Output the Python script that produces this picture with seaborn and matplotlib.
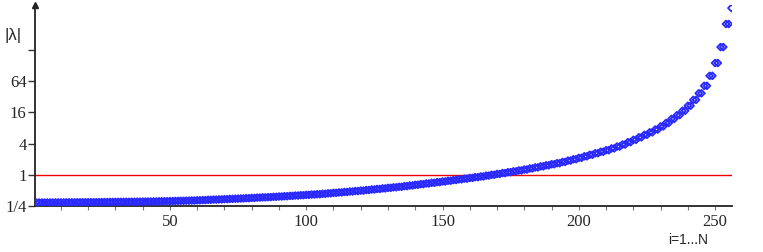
import matplotlib
matplotlib.use("Agg")
import matplotlib.pyplot as plt
import seaborn as sns
import numpy as np
import pandas as pd
from matplotlib.ticker import FixedLocator, MultipleLocator

# ---- data ----
index = list(range(1, 257))
magnitude = [
    0.291,
    0.292, 0.292, 0.292, 0.292, 0.292, 0.292, 0.293, 0.293, 0.293, 0.293,
    0.294, 0.294, 0.294, 0.294, 0.295, 0.295, 0.295, 0.295, 0.296, 0.296,
    0.296, 0.296, 0.297, 0.297, 0.298, 0.298, 0.299, 0.299, 0.300, 0.300,
    0.301, 0.301, 0.301, 0.301, 0.302, 0.302, 0.303, 0.303, 0.304, 0.304,
    0.305, 0.305, 0.306, 0.306, 0.308, 0.308, 0.309, 0.309, 0.311, 0.311,
    0.313, 0.313, 0.315, 0.315, 0.317, 0.317, 0.319, 0.319, 0.322, 0.322,
    0.325, 0.325, 0.329, 0.329, 0.332, 0.332, 0.335, 0.335, 0.339, 0.339,
    0.343, 0.343, 0.346, 0.346, 0.350, 0.350, 0.354, 0.354, 0.358, 0.358,
    0.363, 0.363, 0.367, 0.367, 0.371, 0.371, 0.376, 0.376, 0.381, 0.381,
    0.386, 0.386, 0.392, 0.392, 0.398, 0.398, 0.404, 0.404, 0.410, 0.410,
    0.416, 0.416, 0.422, 0.422, 0.430, 0.430, 0.439, 0.439, 0.448, 0.448,
    0.457, 0.457, 0.466, 0.466, 0.476, 0.476, 0.486, 0.486, 0.496, 0.496,
    0.508, 0.508, 0.521, 0.521, 0.533, 0.533, 0.546, 0.546, 0.560, 0.560,
    0.573, 0.573, 0.587, 0.587, 0.604, 0.604, 0.622, 0.622, 0.641, 0.641,
    0.660, 0.660, 0.680, 0.680, 0.700, 0.700, 0.721, 0.721, 0.743, 0.743,
    0.767, 0.767, 0.791, 0.791, 0.817, 0.817, 0.843, 0.843, 0.870, 0.870,
    0.898, 0.898, 0.929, 0.929, 0.964, 0.964, 1.000, 1.000, 1.038, 1.038,
    1.079, 1.079, 1.122, 1.122, 1.166, 1.166, 1.213, 1.213, 1.263, 1.263,
    1.324, 1.324, 1.387, 1.387, 1.454, 1.454, 1.524, 1.524, 1.597, 1.597,
    1.673, 1.673, 1.770, 1.770, 1.879, 1.879, 1.994, 1.994, 2.121, 2.121,
    2.270, 2.270, 2.430, 2.430, 2.600, 2.600, 2.783, 2.783, 2.979, 2.979,
    3.227, 3.227, 3.506, 3.506, 3.832, 3.832, 4.257, 4.257, 4.724, 4.724,
    5.278, 5.278, 5.897, 5.897, 6.589, 6.589, 7.464, 7.464, 8.574, 8.574,
    9.987, 9.987, 11.96, 11.96, 14.12, 14.12, 17.15, 17.15, 21.41, 21.41,
    27.86, 27.86, 37.27, 37.27, 51.98, 51.98, 81.0, 81.0, 143.0, 143.0,
    290.0, 290.0, 809.0, 809.0,
    1641.0,
]
reference_level = 1.0
y_ticks = [0.25, 1, 4, 16, 64, 256]
y_tick_labels = ["1/4", "1", "4", "16", "64", ""]
x_ticks = [50, 100, 150, 200, 250]
y_label = "|λ|"
x_label = "i=1...N"

df = pd.DataFrame({"i": index, "abs_lambda": magnitude})

# ---- style ----
sns.set_style("white")
plt.rcParams["font.family"] = ["Liberation Serif", "DejaVu Serif"]

W, H = 763, 252
fig = plt.figure(figsize=(W / 100, H / 100), dpi=100)
ax = fig.add_axes([35 / W, 46 / H, (732 - 35) / W, (206 - 5) / H])

blue = "#2828ff"
sns.scatterplot(data=df, x="i", y="abs_lambda", ax=ax, marker="D", s=12,
                facecolor="none", edgecolor=blue, linewidth=1.3, zorder=3)
ax.axhline(reference_level, color="#ee0000", lw=1.0, zorder=2)

ax.set_yscale("log", base=2)
ax.set_ylim(0.25, 1880)
ax.set_xlim(0.5, 256.2)

ax.yaxis.set_major_locator(FixedLocator(y_ticks))
ax.set_yticklabels(y_tick_labels)
ax.yaxis.set_minor_locator(FixedLocator([]))
ax.xaxis.set_major_locator(FixedLocator(x_ticks))
ax.xaxis.set_minor_locator(MultipleLocator(10))
ax.set_xticklabels([str(t) for t in x_ticks])

ax.tick_params(axis="y", which="major", direction="out", length=5, width=1,
               color="#333333", labelsize=12, pad=1)
ax.tick_params(axis="x", which="major", direction="out", length=3, width=0.8,
               color="#777777", labelsize=12, pad=3)
ax.tick_params(axis="x", which="minor", direction="out", length=3, width=0.8,
               color="#777777")
ax.tick_params(axis="both", which="both", bottom=True, left=True)

for s in ["top", "right"]:
    ax.spines[s].set_visible(False)
for s in ["left", "bottom"]:
    ax.spines[s].set_color("#222222")
    ax.spines[s].set_linewidth(1.3)

ax.set_xlabel("")
ax.set_ylabel("")

# arrow head on the vertical axis
ax.plot([0], [1.0], marker="^", color="#222222", markersize=5,
        transform=ax.transAxes, clip_on=False, zorder=5)

fig.text(5 / W, 1 - 36 / H, y_label, fontsize=12, va="center", ha="left",
         family=["Liberation Sans", "DejaVu Sans"])
fig.text(668 / W, 1 - 240 / H, x_label, fontsize=10, va="center", ha="left",
         family=["Liberation Sans", "DejaVu Sans"])

fig.savefig("out.png", dpi=100)
